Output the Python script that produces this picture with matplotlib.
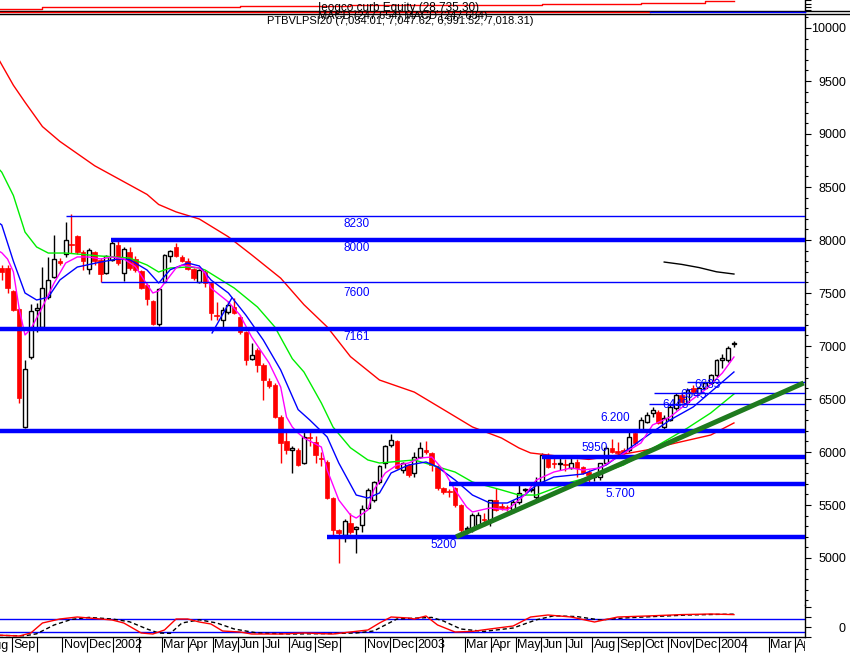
import matplotlib
matplotlib.use('Agg')
import matplotlib.pyplot as plt
import numpy as np
import pandas as pd
import matplotlib.dates as mdates
from matplotlib.lines import Line2D
from matplotlib.transforms import ScaledTranslation, Bbox, TransformedBbox

plt.rcParams['font.family'] = ['Liberation Sans', 'DejaVu Sans']

# ---------------- data ----------------
first_week = '2001-08-20'
opens = [7736, 7736, 7519, 7349, 6236, 6896, 7340, 7179, 7462, 7651,
         7802, 7868, 7960, 8038, 7887, 7726, 7887, 7811, 7689, 7811,
         7953, 7689, 7887, 7821, 7708, 7575, 7425, 7208, 7604, 7849,
         7934, 7840, 7802, 7726, 7604, 7698, 7594, 7290, 7245, 7320,
         7368, 7274, 7132, 6877, 6962, 6821, 6670, 6632, 6330, 6104,
         6019, 6019, 5896, 6140, 6094, 5940, 5906, 5566, 5264, 5217,
         5330, 5273, 5311, 5472, 5547, 5717, 5896, 6066, 6104, 5830,
         5877, 5802, 5953, 6019, 5991, 5858, 5660, 5630, 5660, 5500,
         5273, 5264, 5311, 5370, 5358, 5547, 5490, 5480, 5453, 5528,
         5640, 5645, 5575, 5717, 5953, 5900, 5885, 5890, 5849, 5906,
         5858, 5811, 5760, 5764, 5896, 6038, 6010, 6019, 6019, 6180,
         6208, 6283, 6368, 6377, 6236, 6302, 6415, 6538, 6472, 6604,
         6557, 6604, 6651, 6726, 6868, 6868, 7015]
highs = [7760, 7760, 7530, 7360, 6870, 7400, 7406, 7745, 7840, 8047,
         7830, 8170, 8245, 8050, 7906, 7925, 7900, 7830, 7860, 8000,
         7990, 7930, 7930, 7850, 7720, 7590, 7430, 7550, 7870, 7910,
         7972, 7860, 7830, 7740, 7730, 7720, 7600, 7415, 7368, 7420,
         7453, 7290, 7140, 7030, 6980, 6840, 6700, 6650, 6350, 6200,
         6060, 6040, 6189, 6190, 6150, 6000, 5920, 5580, 5270, 5370,
         5420, 5300, 5500, 5660, 5730, 5880, 6070, 6170, 6110, 5910,
         5890, 6000, 6094, 6104, 6000, 5880, 5670, 5650, 5670, 5510,
         5300, 5420, 5430, 5420, 5547, 5660, 5520, 5500, 5550, 5700,
         5660, 5665, 5760, 5990, 5990, 5950, 5940, 5930, 5960, 5930,
         5870, 5830, 5800, 5900, 6060, 6120, 6090, 6040, 6189, 6200,
         6330, 6380, 6420, 6400, 6350, 6440, 6560, 6560, 6600, 6630,
         6620, 6670, 6740, 6880, 6920, 7000, 7048]
lows = [7620, 7500, 7330, 6460, 6230, 6880, 7132, 7150, 7440, 7640,
        7760, 7840, 7880, 7870, 7717, 7679, 7764, 7604, 7680, 7800,
        7760, 7613, 7720, 7700, 7540, 7387, 7200, 7190, 7590, 7792,
        7840, 7790, 7720, 7620, 7590, 7560, 7245, 7245, 7180, 7300,
        7300, 7110, 6821, 6870, 6755, 6490, 6600, 6320, 5896, 5981,
        5800, 5870, 5890, 6060, 5896, 5870, 5560, 5220, 4953, 5150,
        5230, 5047, 5250, 5460, 5530, 5700, 5850, 6050, 5840, 5800,
        5760, 5760, 5940, 5980, 5820, 5640, 5600, 5580, 5480, 5240,
        5230, 5250, 5300, 5300, 5300, 5440, 5450, 5440, 5420, 5510,
        5620, 5625, 5560, 5710, 5850, 5850, 5830, 5820, 5840, 5760,
        5790, 5700, 5730, 5740, 5890, 5990, 5960, 5980, 6000, 6070,
        6190, 6270, 6330, 6260, 6220, 6290, 6400, 6460, 6460, 6550,
        6540, 6590, 6640, 6710, 6790, 6850, 6992]
closes = [7698, 7547, 7340, 6509, 6783, 7330, 7360, 7547, 7623, 7821,
          7783, 8000, 7950, 7887, 7802, 7906, 7802, 7679, 7849, 7972,
          7783, 7915, 7736, 7717, 7547, 7443, 7208, 7538, 7858, 7896,
          7849, 7802, 7726, 7642, 7717, 7594, 7311, 7283, 7340, 7387,
          7311, 7132, 6868, 6915, 6821, 6679, 6623, 6330, 6085, 6019,
          6038, 5877, 6142, 6130, 5972, 5930, 5566, 5264, 5236, 5349,
          5245, 5292, 5462, 5642, 5717, 5868, 6057, 6113, 5849, 5896,
          5783, 5953, 6038, 6000, 5877, 5660, 5623, 5620, 5500, 5264,
          5283, 5406, 5406, 5355, 5547, 5453, 5475, 5470, 5528, 5613,
          5650, 5650, 5690, 5972, 5858, 5890, 5895, 5875, 5896, 5849,
          5802, 5783, 5790, 5896, 6038, 6000, 5995, 5991, 6142, 6085,
          6302, 6349, 6396, 6274, 6320, 6425, 6538, 6472, 6585, 6566,
          6604, 6651, 6726, 6868, 6887, 6981, 7025]

# moving averages (candle index -> value)
red_idx = [-1, 2, 4, 7, 10, 13, 16, 19, 22, 25, 27, 30, 34, 39, 43, 48, 52, 56, 60, 65,
           71, 77, 81, 86, 89, 91, 97, 101, 104, 108, 111, 116, 122, 126]
red_val = [9750, 9460, 9300, 9070, 8930, 8815, 8700, 8610, 8520, 8430, 8335, 8265, 8198,
           8030, 7860, 7640, 7390, 7180, 6900, 6679, 6565, 6368, 6236, 6132, 6038, 5991,
           5953, 5930, 5953, 5990, 6019, 6085, 6160, 6274]
green_idx = [-1, 0, 2, 4, 6, 8, 11, 17, 22, 25, 27, 29, 32, 34, 35, 40, 44, 47, 50, 52,
             55, 57, 60, 63, 65, 71, 74, 78, 81, 86, 89, 92, 98, 101, 104, 107, 113, 118, 122, 126]
green_val = [8700, 8640, 8420, 8075, 7934, 7877, 7877, 7849, 7830, 7764, 7698, 7736, 7745,
             7736, 7717, 7547, 7368, 7179, 6880, 6755, 6462, 6236, 6040, 5925, 5896, 5925,
             5877, 5811, 5717, 5642, 5594, 5594, 5717, 5760, 5820, 5877, 6066, 6226, 6368, 6547]
blue_idx = [-1, 0, 2, 4, 6, 8, 10, 13, 17, 20, 22, 25, 27, 29, 32, 34, 36, 39, 42, 45,
            48, 51, 53, 56, 58, 61, 63, 65, 67, 70, 73, 75, 78, 81, 84, 87, 90, 92, 95, 100,
            104, 110, 115, 119, 123, 126]
blue_val = [8180, 8142, 7800, 7500, 7434, 7460, 7623, 7745, 7792, 7821, 7815, 7717, 7594,
            7720, 7783, 7755, 7623, 7500, 7292, 7057, 6774, 6400, 6302, 6142, 5896, 5594,
            5566, 5613, 5802, 5877, 5906, 5858, 5736, 5594, 5519, 5519, 5594, 5689, 5764,
            5792, 5877, 6113, 6302, 6425, 6613, 6755]
mag_idx = [-1, 0, 1, 2, 3, 4, 5, 7, 9, 11, 13, 15, 17, 19, 21, 23, 25, 26, 27, 28,
           30, 31, 34, 35, 36, 39, 41, 43, 46, 48, 49, 50, 51, 52, 55, 56, 58, 60, 61, 63,
           64, 66, 68, 70, 72, 74, 76, 78, 80, 81, 84, 87, 90, 92, 95, 98, 100, 103, 106, 110,
           112, 115, 118, 121, 124, 126]
mag_val = [7910, 7880, 7820, 7700, 7350, 7104, 7160, 7368, 7594, 7783, 7840, 7840, 7821,
           7840, 7821, 7750, 7580, 7500, 7520, 7594, 7736, 7764, 7736, 7689, 7547, 7415,
           7292, 7085, 6840, 6613, 6330, 6236, 6179, 6132, 6047, 5830, 5547, 5406, 5377,
           5453, 5642, 5802, 5877, 5896, 5943, 5953, 5830, 5642, 5481, 5434, 5472, 5453,
           5594, 5736, 5811, 5849, 5830, 5850, 5953, 6085, 6255, 6330, 6462, 6585, 6745, 6896]

# MACD panel
macd_idx = [-1, 3, 5, 7, 10, 13, 15, 19, 21, 24, 26, 28, 30, 32, 34, 36, 38, 41, 43, 48,
            52, 57, 60, 63, 65, 67, 70, 71, 73, 75, 78, 81, 84, 88, 91, 94, 98, 102, 106, 111,
            117, 122, 126]
macd_val = [-200, -225, -150, 100, 200, 250, 225, 175, 100, -150, -175, -75, 200, 200, 125,
            75, -100, -125, -175, -175, -150, -175, -125, -75, 100, 250, 225, 200, 275, 50,
            -125, -110, -50, 25, 250, 300, 250, 125, 250, 275, 310, 325, 310]
sig_idx = [-1, 4, 6, 9, 12, 15, 19, 22, 25, 27, 29, 31, 34, 37, 40, 44, 50, 56, 61, 64,
           66, 68, 71, 74, 76, 79, 83, 88, 92, 95, 99, 103, 107, 112, 118, 123, 126]
sig_val = [-210, -220, -170, 50, 190, 240, 200, 130, -50, -150, -160, 100, 180, 100, -50,
           -150, -175, -165, -150, -100, 50, 200, 220, 240, 150, -50, -110, -25, 180, 280,
           260, 175, 225, 260, 300, 315, 320]
macd_bands = [200, -125]

# equity strip (top)
eq_idx = [-1, 7, 41, 60, 93, 110, 121, 126]
eq_val = [20000, 22000, 23500, 24500, 26000, 27200, 28735, 28735]

# support / resistance lines: level, start candle index, thick?, label
levels = [8230, 8000, 7600, 7161, 6200, 5950, 5700, 5200, 6660, 6557, 6453]
level_start = [11.1, 18.8, 17.1, -2, -2, 93, 77, 56, 118, 112.3, 111.4]
level_thick = [False, True, False, True, True, True, True, True, False, False, False]
level_labels = ['8230', '8000', '7600', '7161', '6.200', '5950', '5.700', '5200', '6633', '6545', '6448']

# trend lines (start idx, start value, end idx, end value)
green_trend = (78.2, 5200, 138.0, 6651)
blue_trend = (36.2, 7123, 39.6, 7453)
other_idx = [114, 117, 120, 123, 126]
other_val = [7792, 7770, 7740, 7700, 7679]

header_top = 'Ieogco.curb Equity (28,735.30)'
header_mid = 'MACD (247.654) MACD (247.654)'
header_bot = 'PTBVLPSI20 (7,034.01, 7,047.62, 6,991.52, 7,018.31)'

# ---------------- figure ----------------
W, H = 850, 653
fig = plt.figure(figsize=(8.5, 6.53), dpi=100)
fig.patch.set_facecolor('white')


def rect(x0, y0, x1, y1):
    return [x0 / W, 1 - y1 / H, (x1 - x0) / W, (y1 - y0) / H]


ax = fig.add_axes(rect(0, 15, 805, 605))
axm = fig.add_axes(rect(0, 605, 805, 637), sharex=ax)
axt = fig.add_axes(rect(0, 0, 805, 12), sharex=ax)

start = pd.Timestamp(first_week)
n = len(closes)
dates = pd.date_range(start, periods=n, freq='7D')
xd = mdates.date2num(dates.to_pydatetime())
x0num = mdates.date2num(pd.Timestamp(first_week).to_pydatetime())


def idx2x(idx):
    return x0num + 7.0 * np.asarray(idx, dtype=float)


ppd = 303.0 / 365.0  # pixels per day
jan02 = mdates.date2num(pd.Timestamp('2002-01-01').to_pydatetime())
xmin = jan02 - 113 / ppd
xmax = jan02 + 692 / ppd

o = np.array(opens, float)
h = np.array(highs, float)
l = np.array(lows, float)
c = np.array(closes, float)
up = c >= o

# wicks
ax.vlines(xd[~up], l[~up], h[~up], color='#ff0000', lw=1.0, zorder=2)
ax.vlines(xd[up], l[up], h[up], color='black', lw=1.0, zorder=2)
bh = np.maximum(np.abs(c - o), 10)
bb = np.minimum(o, c)
ax.bar(xd[~up], bh[~up], bottom=bb[~up], width=4.6 / ppd, color='#ff0000',
       edgecolor='#ff0000', linewidth=0.5, zorder=2.1)
ax.bar(xd[up], bh[up], bottom=bb[up], width=3.9 / ppd, color='white',
       edgecolor='black', linewidth=1.0, zorder=2.1)

# moving averages
ax.plot(idx2x(red_idx), red_val, color='#ff0000', lw=1.0, zorder=3)
ax.plot(idx2x(green_idx), green_val, color='#00ee00', lw=1.0, zorder=3)
ax.plot(idx2x(blue_idx), blue_val, color='#0000ff', lw=1.0, zorder=3)
ax.plot(idx2x(mag_idx), mag_val, color='#ff00ff', lw=1.0, zorder=3)
ax.plot(idx2x([blue_trend[0], blue_trend[2]]), [blue_trend[1], blue_trend[3]],
        color='#0000ff', lw=1.0, zorder=3)
ax.plot(idx2x(other_idx), other_val, color='black', lw=1.0, zorder=3)

# horizontal levels
for lev, s, thick in zip(levels, level_start, level_thick):
    ax.hlines(lev, idx2x(s), xmax, color='#0000ff', lw=3.2 if thick else 1.0, zorder=4)

label_pos = {  # idx, pixel offset (+ up)
    '8230': (61, -8), '8000': (61, -8), '7600': (61, -11), '7161': (61, -8),
    '6.200': (105.5, 13), '5950': (102, 9), '5.700': (106.5, -10), '5200': (76, -8),
    '6633': (121.5, -3), '6545': (119, -2), '6448': (116, -1),
}
for lev, lab in zip(levels, level_labels):
    ix, dy = label_pos[lab]
    ax.annotate(lab, (idx2x(ix), lev), xytext=(0, dy * 0.72), textcoords='offset points',
                ha='center', va='center', color='#0000ff', fontsize=8.5, zorder=6)

# green trend line
ax.plot(idx2x([green_trend[0], green_trend[2]]), [green_trend[1], green_trend[3]],
        color='#1e7a1e', lw=3.6, zorder=5, solid_capstyle='butt')

ax.set_xlim(xmin, xmax)
ymin = 10000 - (605 - 28) / 0.106
ymax = 10000 + (28 - 15) / 0.106
ax.set_ylim(ymin, ymax)

for a in (ax, axm, axt):
    a.set_facecolor('none')
    for sp in ('left', 'top', 'bottom'):
        a.spines[sp].set_visible(False)
    a.spines['right'].set_linewidth(1.0)
    a.yaxis.tick_right()
    a.tick_params(axis='x', which='both', bottom=False, labelbottom=False)

axm.spines['bottom'].set_visible(True)
axm.spines['bottom'].set_linewidth(1.0)

# y ticks main
ax.set_yticks(np.arange(5000, 10001, 500))
ax.set_yticks(np.arange(4600, 10101, 100), minor=True)
ax.set_yticklabels([str(v) for v in range(5000, 10001, 500)])
ax.tick_params(axis='y', which='major', length=4, width=0.8, pad=25.5, labelsize=9)
ax.tick_params(axis='y', which='minor', length=2.5, width=0.8)
for lab in ax.get_yticklabels():
    lab.set_horizontalalignment('right')

# MACD panel
axm.plot(idx2x(sig_idx), sig_val, color='black', lw=1.0, ls=(0, (3, 2)), zorder=3)
axm.plot(idx2x(macd_idx), macd_val, color='#ff0000', lw=1.0, zorder=4)
for b in macd_bands:
    axm.axhline(b, color='#0000ff', lw=1.0, zorder=2)
axm.set_ylim(-250, 550)
axm.set_yticks([0])
axm.set_yticks([-250, 250, 500], minor=True)
axm.set_yticklabels(['0'])
axm.tick_params(axis='y', which='major', length=4, width=0.8, pad=25.5, labelsize=9)
axm.tick_params(axis='y', which='minor', length=4, width=0.8)
for lab in axm.get_yticklabels():
    lab.set_horizontalalignment('right')

# x axis ticks on MACD panel
months = pd.date_range('2001-09-01', '2004-04-01', freq='MS')
mlabels = []
for d in months:
    if d.month == 1:
        mlabels.append(str(d.year))
    elif d.month in (2,) or (d.month == 10 and d.year < 2003):
        mlabels.append('')
    else:
        mlabels.append(d.strftime('%b'))
axm.set_xticks(mdates.date2num(months.to_pydatetime()))
axm.set_xticklabels(mlabels)
axm.tick_params(axis='x', which='major', bottom=True, labelbottom=True, length=10.5,
                width=0.8, pad=-8.8, labelsize=9, direction='out')
off = ScaledTranslation(1.5 / 100, 0, fig.dpi_scale_trans)
clipbb = TransformedBbox(Bbox([[0, 0], [805 / W, 1]]), fig.transFigure)
for lab in axm.get_xticklabels():
    lab.set_horizontalalignment('left')
    lab.set_transform(lab.get_transform() + off)
    lab.set_clip_box(clipbb)
    lab.set_clip_on(True)
fig.text(-13 / W, 1 - 646 / H, 'Aug', fontsize=9, ha='left', va='center')

# top equity strip
axt.plot(idx2x(eq_idx), eq_val, color='#ff0000', lw=1.0, drawstyle='steps-post')
axt.set_ylim(16094, 30297)
axt.set_yticks([18000, 22000, 26000, 30000])
axt.set_yticklabels([])
axt.tick_params(axis='y', which='major', length=4, width=0.8)

# header lines
fig.add_artist(Line2D([0, 1], [1 - 10.5 / H] * 2, color='black', lw=1.0))
fig.add_artist(Line2D([0, 650 / W], [1 - 12.2 / H] * 2, color='#ff0000', lw=1.0))
fig.add_artist(Line2D([650 / W, 805 / W], [1 - 12.2 / H] * 2, color='#0000ff', lw=1.0))
fig.add_artist(Line2D([0, 1], [1 - 13.8 / H] * 2, color='black', lw=1.0))

fig.text(318 / W, 1 - 8 / H, header_top, fontsize=8.5, ha='left', va='center')
fig.text(318 / W, 1 - 16 / H, header_mid, fontsize=8.0, ha='left', va='center')
fig.text(267 / W, 1 - 21 / H, header_bot, fontsize=8.0, ha='left', va='center')

fig.savefig('out.png', dpi=100)
